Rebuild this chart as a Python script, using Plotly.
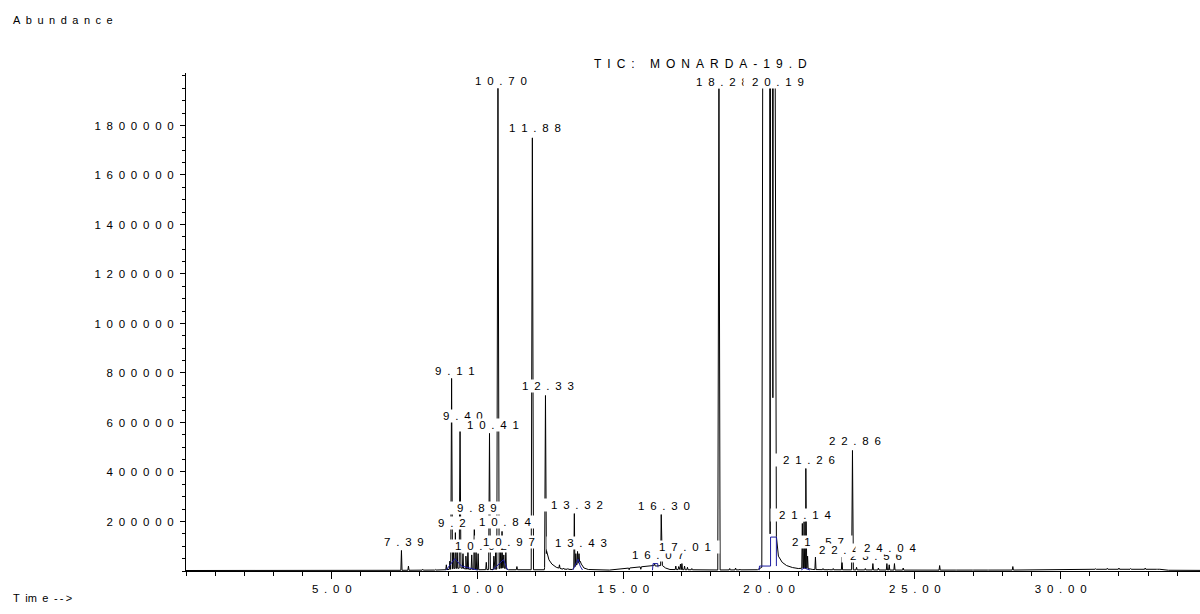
import numpy as np
import plotly.graph_objects as go

# ---------------- data ----------------
# retention time (min) and abundance of the individual peaks
peak_rt = [7.39, 7.63, 8.12, 8.55, 8.93, 9.05, 9.11, 9.17, 9.24, 9.30, 9.40,
           9.50, 9.60, 9.67, 9.80, 9.89, 9.95, 10.02, 10.30, 10.41,
           10.56, 10.62, 10.70, 10.78, 10.84, 10.90, 10.97, 11.35,
           11.88, 12.33, 12.81, 12.95, 13.10, 13.32, 13.37, 13.43, 13.48, 14.50,
           15.20, 15.60, 16.07, 16.30, 16.80, 16.90, 16.96, 17.01, 17.10, 17.20,
           17.35, 17.70, 18.28, 18.65, 18.85, 19.00, 19.30, 21.14, 21.20, 21.26,
           21.32, 21.59, 21.85, 22.05, 22.20, 22.50, 22.86, 23.00, 23.30, 23.56,
           23.75, 24.04, 24.12, 24.30, 24.60, 25.85, 26.40, 27.00, 27.50, 28.36,
           29.20, 30.00, 30.80, 31.20, 31.60, 32.00, 32.40, 32.90, 33.30]
peak_abund = [83000, 20000, 7000, 6000, 25000, 40000, 778000, 95000, 155000, 100000,
              590000, 70000, 60000, 90000, 65000, 220000, 80000, 70000,
              35000, 556000, 60000, 75000, 1950000, 85000, 160000, 65000,
              83000, 18000, 1750000, 709000, 25000, 12000, 10000, 232000, 70000,
              79000, 70000, 5000, 5000, 7000, 30000, 228000, 20000, 18000, 28000, 30000,
              20000, 15000, 10000, 6000, 1950000, 10000, 12000, 8000, 6000, 192000,
              200000, 414000, 60000, 56000, 10000, 8000, 10000, 56000, 487000, 15000,
              10000, 30000, 12000, 30000, 25000, 30000, 12000, 22000, 5000, 4000, 5000,
              18000, 4000, 5000, 6000, 9000, 11000, 12000, 10000, 12000, 8000]

# background signal (baseline, tailing and the overloaded 19.8-20.2 min peak)
bg_rt = [0.0, 7.0, 8.8, 9.08, 9.2, 9.45, 9.6, 10.0, 10.6, 10.88, 11.06, 11.8,
         12.29, 12.37, 12.45, 12.55, 12.70, 12.90, 13.25, 13.52, 13.56, 13.65, 13.80, 14.5,
         16.03, 16.12, 16.25, 16.34, 16.45, 16.60, 18.0, 19.60, 19.75, 19.78, 20.02,
         20.035, 20.05, 20.12, 20.13, 20.14, 20.21, 20.25, 20.32, 20.45, 20.60, 20.80,
         21.00, 21.25, 21.50, 22.0, 25.0, 30.5, 31.0, 33.4, 33.7, 34.8]
bg_abund = [2000, 2500, 4000, 7000, 10000, 12000, 8000, 5000, 6000, 13000, 5000, 5000,
            5000, 80000, 45000, 28000, 15000, 8000, 6000, 40000, 28000, 12000, 6000, 3500,
            22000, 20000, 22000, 22000, 12000, 6000, 4000, 5000, 15000, 1968000, 1968000,
            150000, 1968000, 1968000, 700000, 1968000, 1968000, 140000, 60000, 35000,
            22000, 14000, 10000, 12000, 6000, 5000, 3500, 4000, 7000, 7000, 3000, 2500]

# blue integration baselines (segments separated by None)
blue_rt = [8.92, 9.22, 9.45, 10.0, None,
           10.52, 10.89, 11.03, None,
           13.27, 13.45, 13.52, 13.60, None,
           16.0, 16.02, 16.18, 16.19, None,
           19.66, 19.67, 20.05, 20.05, 20.25, 20.25, None,
           21.10, 21.20, 21.40]
blue_abund = [3000, 50000, 20000, 4000, None,
              4000, 46000, 4000, None,
              4000, 48000, 20000, 4000, None,
              3000, 30000, 30000, 15000, None,
              3000, 20000, 20000, 137000, 137000, 20000, None,
              4000, 12000, 4000]

# peak labels (drawing order matters: later labels cover earlier ones)
label_text = ["7.39", "9.11", "9.40", "10.41", "9.89", "9.24", "10.84", "10.02", "10.97",
              "10.70", "11.88", "12.33", "13.32", "13.43", "16.07", "17.01", "16.30",
              "18.28", "20.19", "21.26", "21.14", "21.57", "23.56", "22.49", "24.04", "22.86"]
label_level = [116000, 810000, 628000, 590000, 254000, 192000, 196000, 103000, 116000,
               1978000, 1788000, 749000, 265000, 115000, 63000, 95000, 262000,
               1975000, 1975000, 450000, 228000, 116000, 59000, 83000, 92000, 524000]

x_tick_vals = [5, 10, 15, 20, 25, 30]
y_tick_vals = [200000, 400000, 600000, 800000, 1000000, 1200000, 1400000, 1600000, 1800000]

title_text = "TIC: MONARDA-19.D"
y_title = "Abundance"
x_title = "T\u2002im\u2002e\u2002-\u2009-\u2009>"   # "Time-->" as spaced in the original

# ---------------- build the trace ----------------
def half_width(h):
    if h >= 1.0e6:
        return 0.04
    if h >= 300000:
        return 0.03
    return 0.02

verts = list(zip(bg_rt, bg_abund))
for rt, h in zip(peak_rt, peak_abund):
    w = half_width(h)
    verts.append((rt - w, float(np.interp(rt - w, bg_rt, bg_abund))))
    verts.append((rt, h))
    verts.append((rt + w, float(np.interp(rt + w, bg_rt, bg_abund))))
verts.sort(key=lambda v: v[0])
tx = [v[0] for v in verts]
ty = [v[1] for v in verts]

EN = "\u2002"

def spaced(s):
    return EN.join(s)

FONT = "Liberation Sans, Arial, sans-serif"

fig = go.Figure()
fig.add_trace(go.Scatter(x=tx, y=ty, mode="lines",
                         line=dict(color="black", width=1), hoverinfo="skip",
                         showlegend=False))
fig.add_trace(go.Scatter(x=blue_rt, y=blue_abund, mode="lines",
                         line=dict(color="#1c1ca0", width=1), hoverinfo="skip",
                         showlegend=False, connectgaps=False))

L, R, T, B = 186, 0, 73, 43
W, H = 1200, 614
pw, ph = W - L - R, H - T - B

def px_to_paper(px, py):
    return (px - L) / pw, (H - B - py) / ph

annotations = []
PAD = EN + "\u2009"
for txt, lvl in zip(label_text, label_level):
    rt = float(txt)
    annotations.append(dict(x=rt, y=lvl, xref="x", yref="y", xshift=3,
                            text=PAD + spaced(txt) + PAD, showarrow=False,
                            xanchor="center", yanchor="middle",
                            bgcolor="white", borderpad=0,
                            font=dict(family=FONT, size=11.5, color="black")))

ax, ay = px_to_paper(700, 64)
annotations.append(dict(x=ax, y=ay, xref="paper", yref="paper", text=spaced(title_text),
                        showarrow=False, xanchor="center", yanchor="middle",
                        font=dict(family=FONT, size=12, color="black")))
ax, ay = px_to_paper(11, 20)
annotations.append(dict(x=ax, y=ay, xref="paper", yref="paper", text=spaced(y_title),
                        showarrow=False, xanchor="left", yanchor="middle",
                        font=dict(family=FONT, size=11, color="black")))
ax, ay = px_to_paper(11, 598)
annotations.append(dict(x=ax, y=ay, xref="paper", yref="paper", text=x_title,
                        showarrow=False, xanchor="left", yanchor="middle",
                        font=dict(family=FONT, size=11, color="black")))

fig.update_layout(
    width=W, height=H,
    margin=dict(l=L, r=R, t=T, b=B, pad=0),
    paper_bgcolor="white", plot_bgcolor="white",
    showlegend=False,
    annotations=annotations,
    xaxis=dict(range=[0, 34.78], showgrid=False, zeroline=False,
               showline=True, linecolor="black", linewidth=1,
               ticks="outside", ticklen=7, tickcolor="black", tickwidth=1,
               tickmode="array", tickvals=x_tick_vals,
               ticktext=[spaced(f"{v:.2f}") for v in x_tick_vals],
               tickfont=dict(family=FONT, size=11.5, color="black"),
               minor=dict(dtick=1, tick0=0, ticks="outside", ticklen=4,
                          tickcolor="black", showgrid=False)),
    yaxis=dict(range=[0, 2.012e6], showgrid=False, zeroline=False,
               showline=True, linecolor="black", linewidth=1,
               ticks="outside", ticklen=5, tickcolor="black", tickwidth=1,
               tickmode="array", tickvals=y_tick_vals,
               ticktext=[spaced(str(v)) for v in y_tick_vals],
               tickfont=dict(family=FONT, size=11.5, color="black"),
               ticklabelstandoff=4,
               minor=dict(dtick=50000, tick0=0, ticks="outside", ticklen=3,
                          tickcolor="black", showgrid=False)),
)

fig.write_html("out.html",
               config={"displayModeBar": False, "staticPlot": True},
               post_script="document.body.style.margin='0px';"
                           "document.body.style.padding='0px';")
